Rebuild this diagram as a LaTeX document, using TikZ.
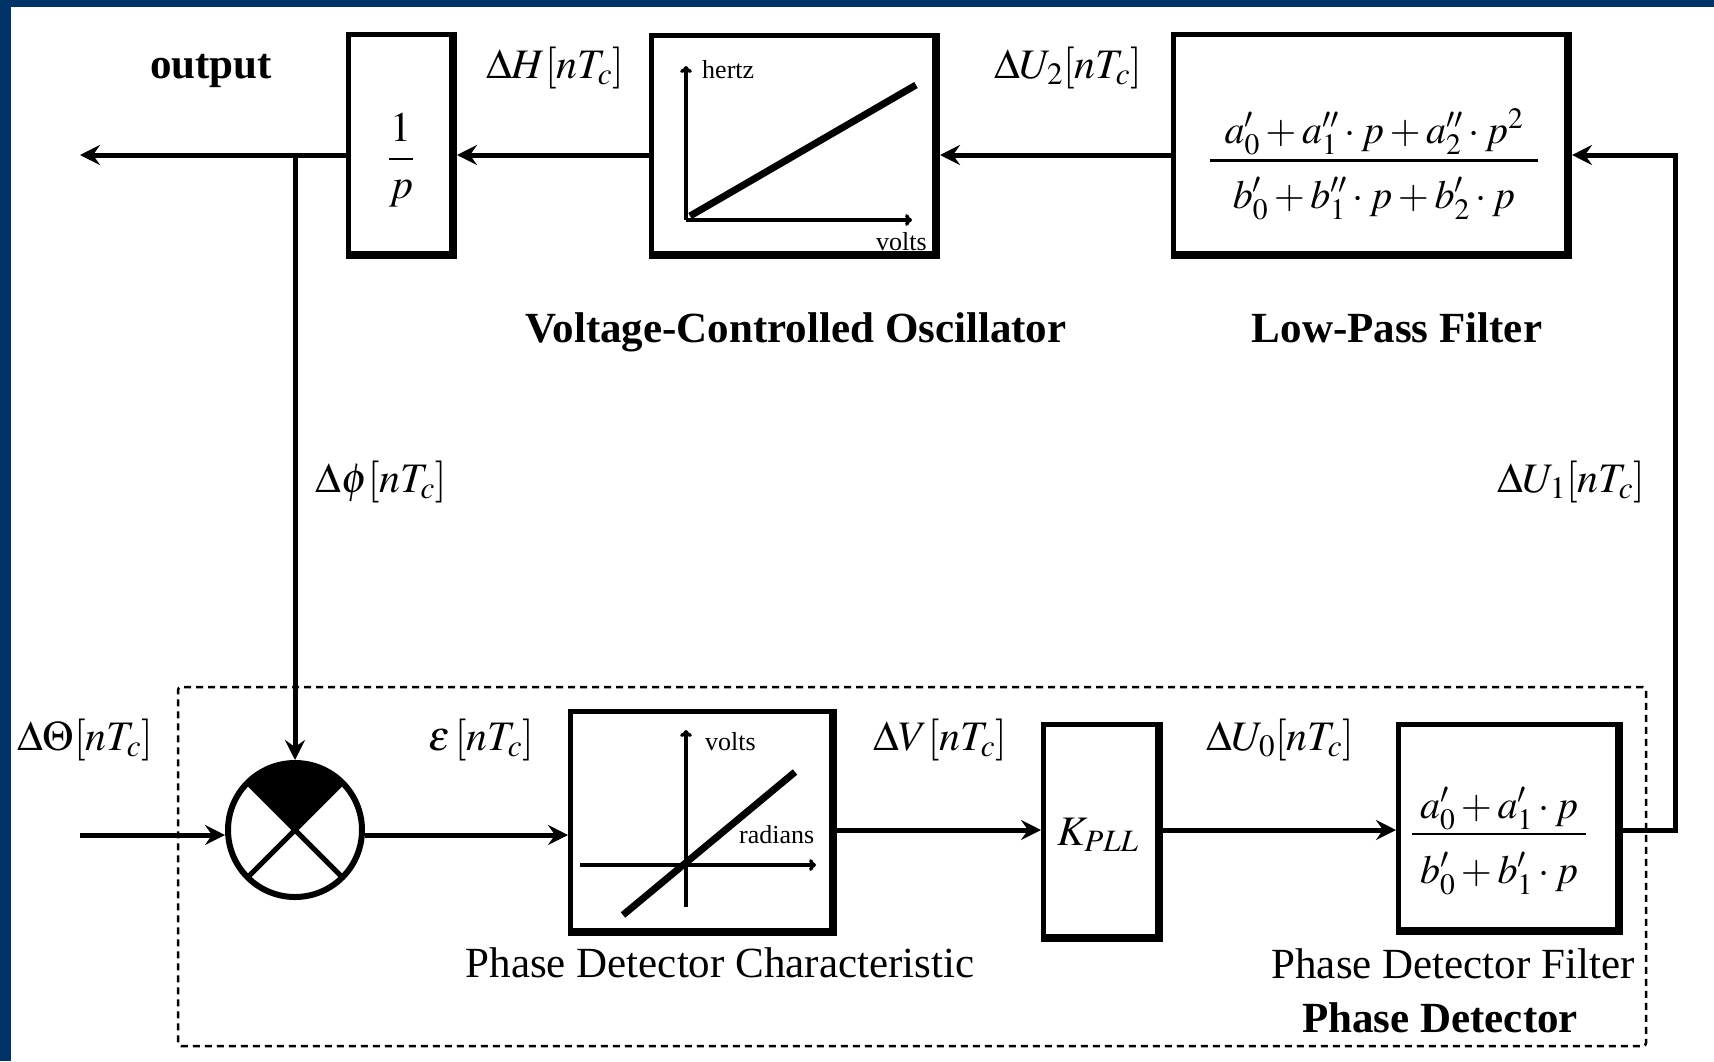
\documentclass[tikz,border=0pt]{standalone}
\usepackage{amsmath}
\usepackage{mathptmx}
\usepackage{fontspec}
\setmainfont{Liberation Serif}
\usetikzlibrary{arrows.meta}
\definecolor{frameblue}{RGB}{0,51,102}
\newcommand\boxshade[1]{\draw[line width=8pt] ([xshift=-4pt]#1.north east) -- ([xshift=-4pt,yshift=4pt]#1.south east) -- ([yshift=4pt]#1.south west);}
\begin{document}
\begin{tikzpicture}[x=1pt,y=1pt,
  conn/.style={line width=5pt},
  arr/.style={line width=5pt,-{Stealth[length=20pt,width=20pt,inset=7pt]}},
  blk/.style={draw,line width=5pt},
  lbl/.style={font=\fontsize{42}{48}\selectfont,inner sep=0pt,anchor=base},
  frac/.style={font=\fontsize{40}{46}\selectfont,inner sep=0pt,anchor=base},
  ttl/.style={font=\fontsize{43}{50}\selectfont,inner sep=0pt,anchor=base},
  bttl/.style={font=\fontsize{43}{50}\selectfont\bfseries,inner sep=0pt,anchor=base},
  axlbl/.style={font=\fontsize{26}{30}\selectfont,inner sep=0pt,anchor=base west},
  axarrow/.style={line width=3.5pt,-{To[length=7pt,width=12pt]}},
  plotline/.style={line width=7pt},
  fracbar/.style={line width=3pt},
  dashbox/.style={draw,line width=2.5pt,dash pattern=on 7pt off 5pt,rounded corners=3pt}
]
% background and frame bands
\fill[white] (0,0) rectangle (1714,-1061);
\fill[frameblue] (0,0) rectangle (1714,-7);
\fill[frameblue] (0,0) rectangle (11,-1061);
\useasboundingbox (0,0) rectangle (1714,-1061);

% phase detector group
\node[dashbox,minimum width=1468pt,minimum height=359pt] (pd) at (912,-866.5) {};

% blocks
\node[blk,minimum width=106pt,minimum height=222pt] (onep) at (401.5,-145.5) {};
\node[blk,minimum width=286pt,minimum height=221pt] (vco) at (794.5,-146) {};
\node[blk,minimum width=396pt,minimum height=222pt] (lpf) at (1371.5,-145.5) {};
\node[blk,minimum width=264pt,minimum height=222pt] (pdc) at (702.5,-822.5) {};
\node[blk,minimum width=117pt,minimum height=215pt] (kbox) at (1102,-832) {};
\node[blk,minimum width=222pt,minimum height=208pt] (pdf) at (1509.5,-828.5) {};
\boxshade{onep}\boxshade{vco}\boxshade{lpf}\boxshade{pdc}\boxshade{kbox}\boxshade{pdf}

% summing junction
\node[circle,draw,line width=6pt,minimum size=134pt,inner sep=0pt] (sj) at (295,-830) {};
\fill (sj.center) -- ++(45:67) arc[start angle=45,end angle=135,radius=67] -- cycle;
\draw[line width=5pt] (sj.center) ++(45:67) -- ++(225:134);
\draw[line width=5pt] (sj.center) ++(135:67) -- ++(315:134);

% block contents
\node[lbl,anchor=center] (fonep) at (401,-160) {$\dfrac{1}{p}$};
\node[frac] (lpfnum) at (1374,-143) {$a_0' + a_1''\cdot p + a_2''\cdot p^2$};
\node[frac] (lpfden) at (1374,-208) {$b_0' + b_1''\cdot p + b_2'\cdot p$};
\draw[fracbar] (1210,-160) -- (1538,-160);
\node[frac] (pdfnum) at (1499,-818) {$a_0' + a_1'\cdot p$};
\node[frac] (pdfden) at (1499,-883) {$b_0' + b_1'\cdot p$};
\draw[fracbar,line width=2.5pt] (1412,-834) -- (1586,-834);
\node[lbl] (kt) at (1098,-845) {$K_{PLL}$};

% VCO characteristic
\coordinate (vo) at (686,-220);
\draw[axarrow] (vo) -- (686,-66);
\draw[axarrow] (vo) -- (912,-220);
\draw[plotline] (690,-216) -- (916,-85);
\node[axlbl] (hz) at (702,-78) {hertz};
\node[axlbl,anchor=base east] (vv) at (927,-250) {volts};

% phase detector characteristic
\coordinate (po) at (686,-865);
\draw[axarrow] (686,-907) -- (686,-730);
\draw[axarrow] (580,-865) -- (816,-865);
\draw[plotline] (623,-915) -- (795,-772);
\node[axlbl] (pv) at (705,-750) {volts};
\node[axlbl] (pr) at (739,-843) {radians};

% connectors
\coordinate (topy) at (0,-155);
\coordinate (boty) at (0,-830);
\coordinate (iny) at (0,-835);
\coordinate (out) at (80,-155);
\coordinate (J) at (295,-155);
\coordinate (in) at (80,-835);
\coordinate (R1) at (1675,-830);
\coordinate (R2) at (1675,-155);
\draw[arr] (onep.west |- topy) -- (out);
\draw[arr] (J) -- (sj.north);
\draw[arr] (vco.west |- topy) -- (onep.east |- topy);
\draw[arr] (lpf.west |- topy) -- (vco.east |- topy);
\draw[arr] (pdf.east |- boty) -- (R1) -- (R2) -- (lpf.east |- topy);
\draw[arr] (in) -- (sj.west |- iny);
\draw[arr] (sj.east |- iny) -- (pdc.west |- iny);
\draw[arr] (pdc.east |- boty) -- (kbox.west |- boty);
\draw[arr] (kbox.east |- boty) -- (pdf.west |- boty);

% signal labels
\node[bttl] (outlbl) at (211,-78) {output};
\node[lbl] (lH) at (555,-78) {$\Delta H[nT_c]$};
\node[lbl] (lU2) at (1068,-78) {$\Delta U_2[nT_c]$};
\node[lbl] (lphi) at (381,-492) {$\Delta\phi[nT_c]$};
\node[lbl] (lU1) at (1571,-492) {$\Delta U_1[nT_c]$};
\node[lbl] (lTh) at (85,-750) {$\Delta\Theta[nT_c]$};
\node[lbl] (leps) at (481,-750) {$\varepsilon\,[nT_c]$};
\node[lbl] (lV) at (940,-750) {$\Delta V[nT_c]$};
\node[lbl] (lU0) at (1280,-750) {$\Delta U_0[nT_c]$};

% titles
\node[bttl] (tvco) at (796,-342) {Voltage-Controlled Oscillator};
\node[bttl] (tlpf) at (1397,-342) {Low-Pass Filter};
\node[ttl] (tpdc) at (720,-977) {Phase Detector Characteristic};
\node[ttl] (tpdf) at (1453,-978) {Phase Detector Filter};
\node[bttl] (tpd) at (1440,-1032) {Phase Detector};
\end{tikzpicture}
\end{document}
